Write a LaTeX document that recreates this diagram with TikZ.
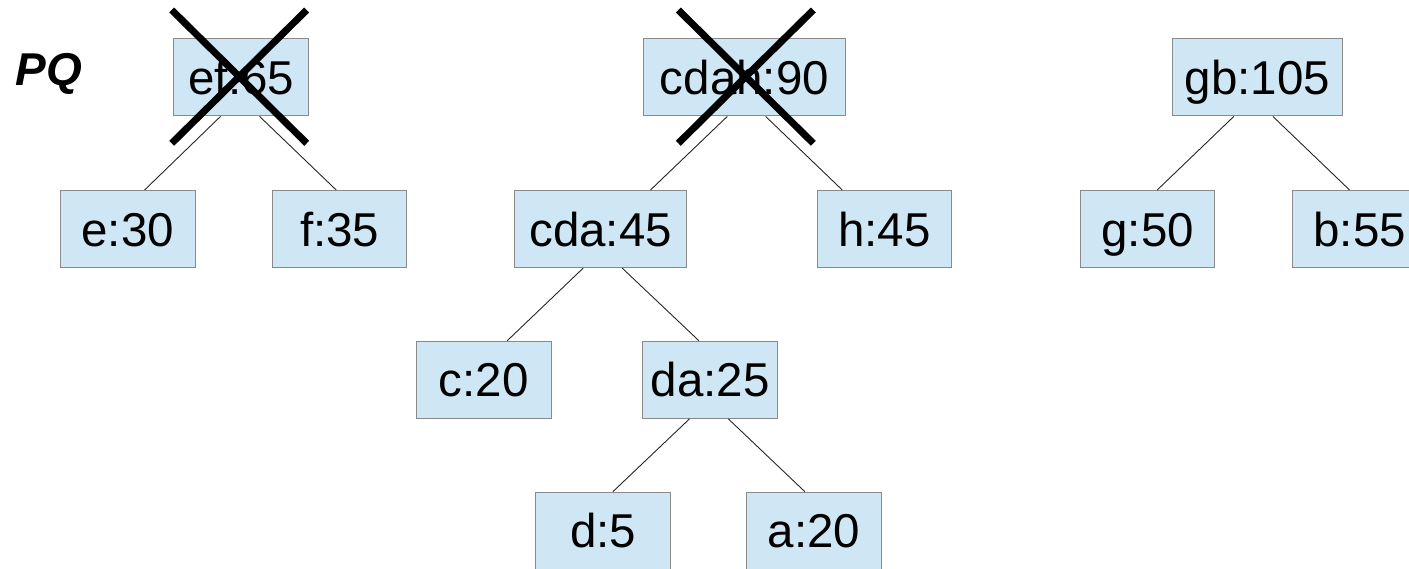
\documentclass[tikz,border=0pt]{standalone}
\usepackage{fontspec}
\setmainfont{Liberation Sans}
\definecolor{boxfill}{HTML}{CFE7F5}
\definecolor{boxline}{HTML}{8A8A8A}
\begin{document}
\begin{tikzpicture}[x=1pt,y=-1pt,
  tbox/.style={draw=boxline,line width=1.1pt,fill=boxfill,inner sep=0pt,
    minimum height=77pt,anchor=north west,
    font=\fontsize{47.5}{52}\selectfont,text height=34pt,text depth=0pt},
  link/.style={draw=black!85,line width=0.9pt},
  cross/.style={draw=black,line width=7pt}]
\useasboundingbox (0,0) rectangle (1409,569);
\clip (0,0) rectangle (1409,569);
\node[anchor=base west,font=\fontsize{46}{50}\selectfont\bfseries\itshape] (pq) at (12,86) {PQ};
% row 1
\node[tbox,minimum width=135pt] (ef) at (173.3,38.3) {ef:65};
\node[tbox,minimum width=202.3pt] (cdah) at (642.7,38.3) {cdah:90};
\node[tbox,minimum width=170pt] (gb) at (1171.7,38.3) {gb:105};
% row 2
\node[tbox,minimum width=134.5pt] (e) at (60,190) {e:30};
\node[tbox,minimum width=133.7pt] (f) at (272.3,190) {f:35};
\node[tbox,minimum width=171.7pt] (cda) at (514.3,190) {cda:45};
\node[tbox,minimum width=134pt] (h) at (816.7,190) {h:45};
\node[tbox,minimum width=134.3pt] (g) at (1080,190) {g:50};
\node[tbox,minimum width=135pt] (b) at (1291.7,190) {b:55};
% row 3
\node[tbox,minimum width=135pt] (c) at (415.7,340.7) {c:20};
\node[tbox,minimum width=135pt] (da) at (642.3,340.7) {da:25};
% row 4
\node[tbox,minimum width=135pt] (d) at (535,491.7) {d:5};
\node[tbox,minimum width=134.7pt] (a) at (746,491.7) {a:20};
% connectors
\draw[link] ([xshift=-20.8pt]ef.south) -- ([xshift=16.8pt]e.north);
\draw[link] ([xshift=18.2pt]ef.south) -- ([xshift=-3.5pt]f.north);
\draw[link] ([xshift=-17.1pt]cdah.south) -- ([xshift=49.8pt]cda.north);
\draw[link] ([xshift=21.2pt]cdah.south) -- ([xshift=-42pt]h.north);
\draw[link] ([xshift=-17.5pt]cda.south) -- ([xshift=23.5pt]c.north);
\draw[link] ([xshift=21.5pt]cda.south) -- ([xshift=-11.5pt]da.north);
\draw[link] ([xshift=-20.8pt]da.south) -- ([xshift=9.8pt]d.north);
\draw[link] ([xshift=17.9pt]da.south) -- ([xshift=-9pt]a.north);
\draw[link] ([xshift=-23.4pt]gb.south) -- ([xshift=9.5pt]g.north);
\draw[link] ([xshift=15.6pt]gb.south) -- ([xshift=-10.2pt]b.north);
% crosses
\draw[cross] (171.7,10) -- (306.7,143.3);
\draw[cross] (306.7,10) -- (171.7,143.3);
\draw[cross] (678.3,10) -- (813.3,143.3);
\draw[cross] (813.3,10) -- (678.3,143.3);
\end{tikzpicture}
\end{document}
